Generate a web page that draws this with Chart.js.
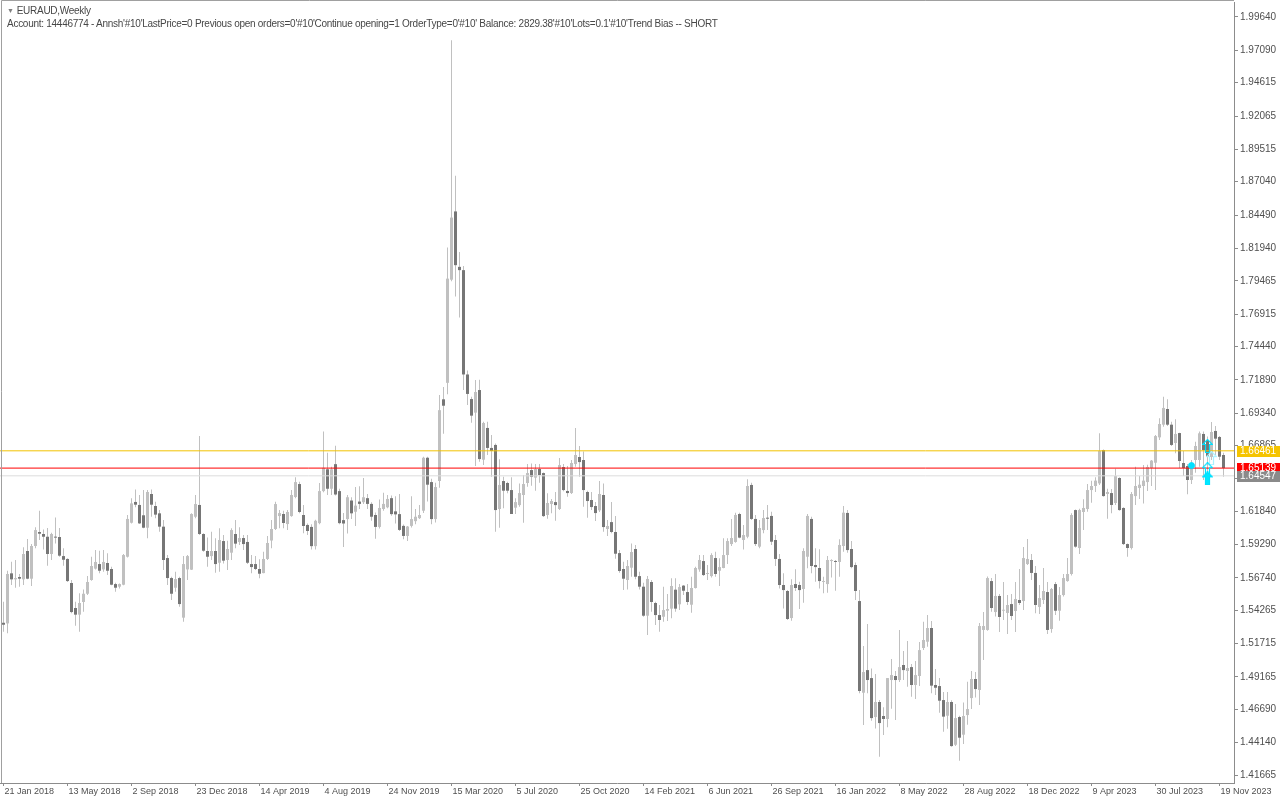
<!DOCTYPE html>
<html>
<head>
<meta charset="utf-8">
<title>EURAUD,Weekly</title>
<script src="https://cdn.jsdelivr.net/npm/chart.js@4.4.1/dist/chart.umd.min.js"></script>
<style>
  html, body { margin: 0; padding: 0; background: #ffffff; }
  #wrap { position: relative; width: 1280px; height: 800px; overflow: hidden; }
  #chart { position: absolute; left: 0; top: 0; }
  .hdr { position: absolute; left: 7px; font-family: "Liberation Sans", Arial, sans-serif; font-size: 10px; letter-spacing: -0.27px; color: #474747; white-space: nowrap; line-height: 12px; }
  #hdr1 { top: 5px; }
  #hdr2 { top: 18px; }
  #hdr1 .tri { font-size: 7px; color: #808080; margin-right: 3px; position: relative; top: -1px; }
</style>
</head>
<body>
<div id="wrap">
  <canvas id="chart" width="1280" height="800"></canvas>
  <div class="hdr" id="hdr1"><span class="tri">▼</span>EURAUD,Weekly</div>
  <div class="hdr" id="hdr2">Account: 14446774 - Annsh'#10'LastPrice=0 Previous open orders=0'#10'Continue opening=1 OrderType=0'#10' Balance: 2829.38'#10'Lots=0.1'#10'Trend Bias -- SHORT</div>
</div>
<script>
"use strict";
// weekly candles, week 0 = 21 Jan 2018
const opens = [
  1.5331,1.5326,1.5709,1.5663,1.5681,1.5663,1.5880,1.5668,1.5918,1.6025,
  1.6010,1.5989,1.5857,1.5987,1.5987,1.5841,1.5819,1.5635,1.5444,1.5393,
  1.5490,1.5553,1.5658,1.5745,1.5780,1.5739,1.5788,1.5742,1.5627,1.5607,
  1.5622,1.5836,1.6096,1.6255,1.6232,1.6153,1.6058,1.6316,1.6224,1.6168,
  1.6066,1.5826,1.5673,1.5599,1.5673,1.5370,1.5739,1.5737,1.6142,1.6232,
  1.6010,1.5880,1.5841,1.5880,1.5790,1.5956,1.5811,1.5867,1.6010,1.5949,
  1.5979,1.5949,1.5780,1.5780,1.5742,1.5711,1.5819,1.5960,1.6048,1.6147,
  1.6163,1.6086,1.6147,1.6293,1.6392,1.6155,1.6079,1.6064,1.5917,1.6093,
  1.6338,1.6505,1.6356,1.6544,1.6338,1.6116,1.6124,1.6266,1.6180,1.6258,
  1.6253,1.6284,1.6240,1.6155,1.6064,1.6201,1.6214,1.6284,1.6183,1.6162,
  1.6072,1.5995,1.6072,1.6108,1.6131,1.6188,1.6593,1.6407,1.6124,1.6415,
  1.7040,1.7166,1.7955,1.8477,1.8053,1.8028,1.7230,1.7042,1.6938,1.7111,
  1.6578,1.6821,1.6668,1.6691,1.6201,1.6415,1.6400,1.6346,1.6211,1.6231,
  1.6308,1.6400,1.6499,1.6441,1.6507,1.6476,1.6155,1.6239,1.6254,1.6201,
  1.6522,1.6339,1.6323,1.6545,1.6599,1.6576,1.6331,1.6270,1.6224,1.6191,
  1.6308,1.6048,1.6101,1.6025,1.5864,1.5742,1.5658,1.5752,1.5895,1.5688,
  1.5607,1.5385,1.5643,1.5482,1.5390,1.5377,1.5423,1.5439,1.5584,1.5472,
  1.5615,1.5566,1.5469,1.5597,1.5739,1.5803,1.5704,1.5688,1.5826,1.5729,
  1.5750,1.5849,1.5933,1.5949,1.6163,1.5964,1.5989,1.6385,1.6125,1.5913,
  1.6040,1.6130,1.6148,1.5964,1.5819,1.5620,1.5574,1.5367,1.5627,1.5620,
  1.5589,1.5836,1.6125,1.5773,1.5750,1.5643,1.5627,1.5803,1.5803,1.5796,
  1.5918,1.6171,1.5895,1.5773,1.5497,1.4796,1.4969,1.4908,1.4610,1.4725,
  1.4618,1.4595,1.4893,1.4924,1.4893,1.5008,1.4962,1.4992,1.4855,1.4924,
  1.5138,1.5186,1.5291,1.4855,1.4847,1.4740,1.4620,1.4725,1.4398,1.4610,
  1.4475,1.4625,1.4755,1.4901,1.4817,1.5276,1.5276,1.5650,1.5413,1.5536,
  1.5423,1.5406,1.5474,1.5421,1.5505,1.5497,1.5780,1.5811,1.5712,1.5452,
  1.5505,1.5566,1.5283,1.5627,1.5423,1.5543,1.5650,1.5704,1.6193,1.5903,
  1.6178,1.6201,1.6346,1.6377,1.6397,1.6652,1.6316,1.6323,1.6247,1.6438,
  1.6209,1.5933,1.5903,1.6300,1.6362,1.6377,1.6407,1.6515,1.6555,1.6749,
  1.6846,1.6966,1.6846,1.6706,1.6782,1.6553,1.6530,1.6423,1.6576,1.6576,
  1.6775,1.6729,1.6599,1.6798,1.6752,1.6614
];
const highs = [
  1.5492,1.5729,1.5798,1.5811,1.5704,1.5908,1.5972,1.5933,1.6061,1.6188,
  1.6045,1.6056,1.6020,1.6137,1.6056,1.5900,1.5824,1.5658,1.5492,1.5556,
  1.5586,1.5688,1.5836,1.5887,1.5882,1.5887,1.5862,1.5760,1.5637,1.5632,
  1.5857,1.6155,1.6283,1.6351,1.6308,1.6346,1.6346,1.6351,1.6257,1.6193,
  1.6117,1.5849,1.5683,1.5722,1.5683,1.5841,1.5849,1.6168,1.6308,1.6759,
  1.6015,1.5984,1.6028,1.5977,1.6053,1.6002,1.5959,1.6053,1.6117,1.6061,
  1.6002,1.6002,1.5849,1.5841,1.5816,1.5874,1.5994,1.6117,1.6257,1.6193,
  1.6188,1.6193,1.6346,1.6443,1.6410,1.6232,1.6091,1.6085,1.6118,1.6400,
  1.6794,1.6632,1.6524,1.6684,1.6356,1.6170,1.6309,1.6291,1.6369,1.6376,
  1.6438,1.6315,1.6253,1.6175,1.6273,1.6325,1.6309,1.6304,1.6299,1.6315,
  1.6082,1.6072,1.6299,1.6201,1.6232,1.6601,1.6601,1.6433,1.6402,1.7073,
  1.7135,1.8201,1.9787,1.8750,1.8167,1.8060,1.7260,1.7060,1.7188,1.7190,
  1.6869,1.6869,1.6767,1.6703,1.6581,1.6448,1.6410,1.6443,1.6283,1.6397,
  1.6461,1.6545,1.6550,1.6545,1.6545,1.6480,1.6321,1.6277,1.6331,1.6591,
  1.6545,1.6530,1.6576,1.6821,1.6683,1.6640,1.6340,1.6331,1.6254,1.6415,
  1.6397,1.6117,1.6254,1.6147,1.5887,1.5798,1.5811,1.5938,1.5926,1.5722,
  1.5637,1.5688,1.5658,1.5492,1.5467,1.5607,1.5551,1.5671,1.5671,1.5627,
  1.5620,1.5627,1.5683,1.5760,1.5849,1.5849,1.5773,1.5862,1.5875,1.5824,
  1.5977,1.5977,1.6125,1.6173,1.6173,1.6079,1.6428,1.6402,1.6155,1.6117,
  1.6193,1.6232,1.6181,1.6002,1.5857,1.5709,1.5581,1.5663,1.5740,1.5645,
  1.5900,1.6163,1.6142,1.5900,1.5893,1.5683,1.5842,1.5816,1.5811,1.5969,
  1.6224,1.6193,1.5956,1.5791,1.5581,1.5153,1.5321,1.4982,1.4939,1.4740,
  1.4684,1.4908,1.5054,1.4962,1.5275,1.5115,1.5191,1.5015,1.5038,1.5184,
  1.5339,1.5390,1.5344,1.4977,1.4908,1.4801,1.4801,1.4738,1.4709,1.4620,
  1.4722,1.4880,1.4962,1.4954,1.5329,1.5413,1.5684,1.5673,1.5704,1.5551,
  1.5643,1.5543,1.5551,1.5643,1.5742,1.5911,1.5972,1.5857,1.5765,1.5620,
  1.5750,1.5643,1.5597,1.5643,1.5605,1.5704,1.5826,1.6168,1.6198,1.6203,
  1.6275,1.6392,1.6418,1.6443,1.6780,1.6657,1.6356,1.6354,1.6509,1.6443,
  1.6215,1.5938,1.6331,1.6525,1.6453,1.6538,1.6540,1.6576,1.6767,1.6895,
  1.7060,1.7040,1.6869,1.6887,1.6785,1.6645,1.6545,1.6576,1.6716,1.6793,
  1.6793,1.6755,1.6866,1.6836,1.6759,1.6632
];
const lows = [
  1.5263,1.5250,1.5620,1.5599,1.5607,1.5620,1.5663,1.5612,1.5900,1.5964,
  1.5892,1.5768,1.5811,1.5938,1.5836,1.5768,1.5643,1.5403,1.5309,1.5263,
  1.5416,1.5543,1.5653,1.5739,1.5709,1.5722,1.5696,1.5617,1.5569,1.5594,
  1.5617,1.5831,1.6091,1.6214,1.6086,1.6053,1.5977,1.6142,1.6130,1.6028,
  1.5734,1.5620,1.5505,1.5569,1.5454,1.5339,1.5658,1.5734,1.6130,1.6002,
  1.5874,1.5760,1.5811,1.5714,1.5722,1.5785,1.5734,1.5811,1.5900,1.5926,
  1.5887,1.5780,1.5709,1.5734,1.5671,1.5709,1.5811,1.5900,1.6040,1.6053,
  1.6053,1.6040,1.6142,1.6283,1.6168,1.6015,1.6002,1.5891,1.5891,1.6085,
  1.6330,1.6309,1.6309,1.6304,1.6085,1.5910,1.6013,1.6124,1.6072,1.6201,
  1.6240,1.6201,1.6111,1.5974,1.6051,1.6188,1.6206,1.6149,1.6090,1.6033,
  1.5969,1.5956,1.6059,1.6085,1.6124,1.6170,1.6258,1.6085,1.6098,1.6364,
  1.6776,1.7078,1.7943,1.7826,1.7666,1.7111,1.6997,1.6861,1.6530,1.6563,
  1.6537,1.6614,1.6448,1.6028,1.6058,1.6206,1.6321,1.6163,1.6163,1.6219,
  1.6096,1.6372,1.6379,1.6341,1.6402,1.6140,1.6127,1.6168,1.6112,1.6193,
  1.6336,1.6295,1.6316,1.6525,1.6448,1.6219,1.6135,1.6193,1.6109,1.6178,
  1.6028,1.5994,1.6015,1.5821,1.5714,1.5581,1.5586,1.5683,1.5663,1.5586,
  1.5377,1.5237,1.5416,1.5314,1.5263,1.5339,1.5344,1.5365,1.5416,1.5428,
  1.5543,1.5467,1.5408,1.5594,1.5722,1.5688,1.5658,1.5678,1.5683,1.5612,
  1.5747,1.5780,1.5918,1.5943,1.5977,1.5892,1.5977,1.6117,1.5918,1.5900,
  1.6015,1.6040,1.5926,1.5765,1.5594,1.5441,1.5352,1.5347,1.5574,1.5436,
  1.5485,1.5747,1.5709,1.5645,1.5594,1.5556,1.5561,1.5678,1.5576,1.5683,
  1.5875,1.5867,1.5747,1.5505,1.4791,1.4549,1.4791,1.4582,1.4523,1.4306,
  1.4472,1.4531,1.4674,1.4587,1.4878,1.4893,1.4842,1.4765,1.4748,1.4847,
  1.5123,1.5148,1.4791,1.4778,1.4643,1.4498,1.4521,1.4383,1.4388,1.4276,
  1.4403,1.4551,1.4671,1.4760,1.4702,1.5046,1.5270,1.5416,1.5378,1.5260,
  1.5352,1.5245,1.5352,1.5260,1.5467,1.5429,1.5773,1.5658,1.5403,1.5398,
  1.5474,1.5245,1.5255,1.5390,1.5347,1.5531,1.5645,1.5693,1.5905,1.5857,
  1.6040,1.6181,1.6249,1.6331,1.6385,1.6295,1.6127,1.6168,1.6232,1.6188,
  1.5925,1.5836,1.5892,1.6232,1.6277,1.6244,1.6339,1.6377,1.6346,1.6729,
  1.6831,1.6836,1.6683,1.6627,1.6515,1.6453,1.6313,1.6392,1.6479,1.6525,
  1.6423,1.6474,1.6576,1.6614,1.6576,1.6448
];
const closes = [
  1.5316,1.5704,1.5663,1.5673,1.5668,1.5857,1.5668,1.5918,1.6040,1.6012,
  1.5989,1.5857,1.6010,1.5982,1.5844,1.5813,1.5650,1.5413,1.5393,1.5482,
  1.5553,1.5643,1.5765,1.5796,1.5729,1.5796,1.5729,1.5622,1.5599,1.5627,
  1.5849,1.6125,1.6244,1.6234,1.6091,1.6058,1.6331,1.6234,1.6158,1.6066,
  1.5811,1.5673,1.5553,1.5665,1.5474,1.5780,1.5841,1.6163,1.6239,1.6010,
  1.5882,1.5836,1.5880,1.5780,1.5964,1.5806,1.5895,1.6040,1.5936,1.5979,
  1.5933,1.5790,1.5757,1.5742,1.5706,1.5819,1.5941,1.6048,1.6239,1.6170,
  1.6094,1.6178,1.6308,1.6407,1.6178,1.6071,1.6033,1.5917,1.6111,1.6338,
  1.6516,1.6356,1.6505,1.6312,1.6093,1.6090,1.6291,1.6168,1.6227,1.6240,
  1.6291,1.6240,1.6142,1.6064,1.6209,1.6240,1.6278,1.6162,1.6160,1.6041,
  1.5995,1.6067,1.6124,1.6142,1.6155,1.6593,1.6387,1.6124,1.6369,1.6957,
  1.6991,1.7963,1.8430,1.8066,1.8028,1.7230,1.7081,1.6915,1.7096,1.6583,
  1.6859,1.6668,1.6645,1.6193,1.6385,1.6341,1.6341,1.6163,1.6254,1.6323,
  1.6392,1.6476,1.6448,1.6507,1.6461,1.6147,1.6247,1.6262,1.6231,1.6537,
  1.6346,1.6323,1.6553,1.6614,1.6560,1.6346,1.6262,1.6216,1.6170,1.6316,
  1.6063,1.6071,1.6025,1.5859,1.5727,1.5668,1.5765,1.5872,1.5683,1.5607,
  1.5385,1.5666,1.5490,1.5390,1.5352,1.5428,1.5436,1.5612,1.5439,1.5604,
  1.5576,1.5490,1.5597,1.5750,1.5811,1.5696,1.5711,1.5849,1.5704,1.5757,
  1.5849,1.5956,1.5979,1.6155,1.5982,1.6002,1.6377,1.6125,1.5933,1.6056,
  1.6132,1.6127,1.5951,1.5819,1.5620,1.5581,1.5360,1.5620,1.5597,1.5581,
  1.5880,1.6148,1.5765,1.5757,1.5650,1.5646,1.5811,1.5811,1.5796,1.5926,
  1.6173,1.5887,1.5757,1.5574,1.4809,1.4954,1.4893,1.4602,1.4725,1.4564,
  1.4595,1.4908,1.4931,1.4893,1.4992,1.4969,1.4985,1.4855,1.4931,1.5122,
  1.5199,1.5291,1.4850,1.4834,1.4735,1.4613,1.4725,1.4388,1.4602,1.4452,
  1.4618,1.4671,1.4901,1.4824,1.5306,1.5306,1.5673,1.5444,1.5536,1.5375,
  1.5429,1.5467,1.5383,1.5513,1.5482,1.5826,1.5819,1.5712,1.5467,1.5520,
  1.5574,1.5276,1.5589,1.5423,1.5543,1.5673,1.5704,1.6155,1.5913,1.6193,
  1.6209,1.6346,1.6377,1.6418,1.6645,1.6300,1.6331,1.6232,1.6453,1.6193,
  1.5933,1.5903,1.6316,1.6377,1.6387,1.6418,1.6522,1.6571,1.6759,1.6851,
  1.6974,1.6846,1.6691,1.6775,1.6568,1.6515,1.6423,1.6545,1.6683,1.6780,
  1.6652,1.6601,1.6790,1.6739,1.6601,1.6514
];

// time axis labels (every 16 weeks)
const xTickWeeks = [0,16,32,48,64,80,96,112,128,144,160,176,192,208,224,240,256,272,288,304];
const xTickLabels = ["21 Jan 2018","13 May 2018","2 Sep 2018","23 Dec 2018","14 Apr 2019","4 Aug 2019",
  "24 Nov 2019","15 Mar 2020","5 Jul 2020","25 Oct 2020","14 Feb 2021","6 Jun 2021","26 Sep 2021",
  "16 Jan 2022","8 May 2022","28 Aug 2022","18 Dec 2022","9 Apr 2023","30 Jul 2023","19 Nov 2023"];
// price axis labels
const yTickValues = [1.99640,1.97090,1.94615,1.92065,1.89515,1.87040,1.84490,1.81940,1.79465,1.76915,
  1.74440,1.71890,1.69340,1.66865,1.64315,1.61840,1.59290,1.56740,1.54265,1.51715,1.49165,1.46690,
  1.44140,1.41665];
const yMin = 1.41055, yMax = 2.00787;
const xMin = -0.875, xMax = 307.625;

// horizontal price lines with their tags
const levelValues = [1.66461, 1.65139, 1.64547];
const levelLineColors = ["#f2c200", "#ff0000", "#dcdcdc"];
const levelTagColors = ["#f5c400", "#ff0000", "#8a8a8a"];

// arrow objects near the last bars
const arrowWeeks = [301, 302, 301, 301];
const arrowPrices = [1.6683, 1.6590, 1.6505, 1.6435];
const arrowKinds = ["hollow", "pale", "hollow", "filled"];
const dotWeeks = [297];
const dotPrices = [1.6533];

const BULL = "#c0c0c0", BEAR = "#767676", WICK = "#c0c0c0";

function arrowImage(kind) {
  const c = document.createElement("canvas");
  c.width = 11; c.height = 14;
  const g = c.getContext("2d");
  g.beginPath();
  g.moveTo(5.5, 0.5); g.lineTo(10.5, 5.5); g.lineTo(7.5, 5.5); g.lineTo(7.5, 13.5);
  g.lineTo(3.5, 13.5); g.lineTo(3.5, 5.5); g.lineTo(0.5, 5.5); g.closePath();
  if (kind === "filled") { g.fillStyle = "#00e8ff"; g.fill(); }
  g.strokeStyle = kind === "pale" ? "#a8f2ff" : "#00e0ff";
  g.lineWidth = 1.2;
  g.stroke();
  return c;
}

const wickData = highs.map((h, i) => ({ x: i, y: [lows[i], h] }));
const bodyData = opens.map((o, i) => ({ x: i, y: [o, closes[i]] }));
const bodyColors = opens.map((o, i) => (closes[i] >= o ? BULL : BEAR));

const levelSets = levelValues.map((v, i) => ({
  type: "line",
  data: [{ x: xMin, y: v }, { x: xMax, y: v }],
  borderColor: levelLineColors[i],
  borderWidth: 1,
  pointRadius: 0,
  order: 0
}));

const framePlugin = {
  id: "frame",
  afterDraw(chart) {
    const ctx = chart.ctx, a = chart.chartArea, y = chart.scales.y;
    ctx.save();
    ctx.strokeStyle = "#a0a0a0";
    ctx.lineWidth = 1;
    ctx.beginPath();
    ctx.moveTo(1.5, a.bottom); ctx.lineTo(1.5, 0.5); ctx.lineTo(a.right, 0.5);
    ctx.stroke();
    // price tags on the axis
    ctx.font = "10px 'Liberation Sans', Arial, sans-serif";
    ctx.textBaseline = "middle";
    levelValues.forEach((v, i) => {
      const py = Math.round(y.getPixelForValue(v));
      ctx.fillStyle = levelTagColors[i];
      ctx.fillRect(a.right + 3, py - 5, 1280 - a.right - 3, 11);
      ctx.fillStyle = "#ffffff";
      ctx.fillText(v.toFixed(5), a.right + 6, py + 0.5);
    });
    ctx.restore();
  }
};

new Chart(document.getElementById("chart"), {
  type: "bar",
  data: {
    datasets: [
      ...levelSets,
      {
        type: "line",
        data: arrowWeeks.map((w, i) => ({ x: w, y: arrowPrices[i] })),
        showLine: false,
        pointStyle: arrowKinds.map(arrowImage),
        pointRadius: 6,
        order: -1
      },
      {
        type: "line",
        data: dotWeeks.map((w, i) => ({ x: w, y: dotPrices[i] })),
        showLine: false,
        pointStyle: "circle",
        pointRadius: 3,
        pointBackgroundColor: "#00e0ff",
        pointBorderColor: "#00e0ff",
        order: -1
      },
      {
        label: "wick",
        data: wickData,
        backgroundColor: WICK,
        barThickness: 1,
        grouped: false,
        inflateAmount: 0,
        order: 3
      },
      {
        label: "body",
        data: bodyData,
        backgroundColor: bodyColors,
        barThickness: 3,
        minBarLength: 1,
        grouped: false,
        inflateAmount: 0,
        order: 2
      }
    ]
  },
  options: {
    responsive: false,
    animation: false,
    events: [],
    layout: { autoPadding: false, padding: { left: 0, top: 2, right: 0, bottom: 0 } },
    plugins: { legend: { display: false }, tooltip: { enabled: false } },
    scales: {
      x: {
        type: "linear",
        min: xMin,
        max: xMax,
        offset: false,
        grid: { offset: false, drawOnChartArea: false, drawTicks: true, tickLength: 3, color: "#8c8c8c" },
        border: { display: true, color: "#8c8c8c" },
        afterBuildTicks: (s) => { s.ticks = xTickWeeks.map((v) => ({ value: v })); },
        afterFit: (s) => { s.height = 17; s.paddingLeft = 0; s.paddingRight = 0; },
        ticks: {
          autoSkip: false,
          maxRotation: 0,
          align: "start",
          padding: 0,
          labelOffset: 1,
          color: "#505050",
          font: { family: "'Liberation Sans', Arial, sans-serif", size: 9 },
          callback: (v, i) => xTickLabels[i]
        }
      },
      y: {
        type: "linear",
        position: "right",
        min: yMin,
        max: yMax,
        grid: { drawOnChartArea: false, drawTicks: true, tickLength: 4, color: "#8c8c8c" },
        border: { display: true, color: "#8c8c8c" },
        afterBuildTicks: (s) => { s.ticks = yTickValues.map((v) => ({ value: v })); },
        afterFit: (s) => { s.width = 46; s.paddingTop = 0; s.paddingBottom = 0; },
        ticks: {
          padding: 2,
          color: "#505050",
          font: { family: "'Liberation Sans', Arial, sans-serif", size: 10 },
          callback: (v) => Number(v).toFixed(5)
        }
      }
    }
  },
  plugins: [framePlugin]
});
</script>
</body>
</html>
